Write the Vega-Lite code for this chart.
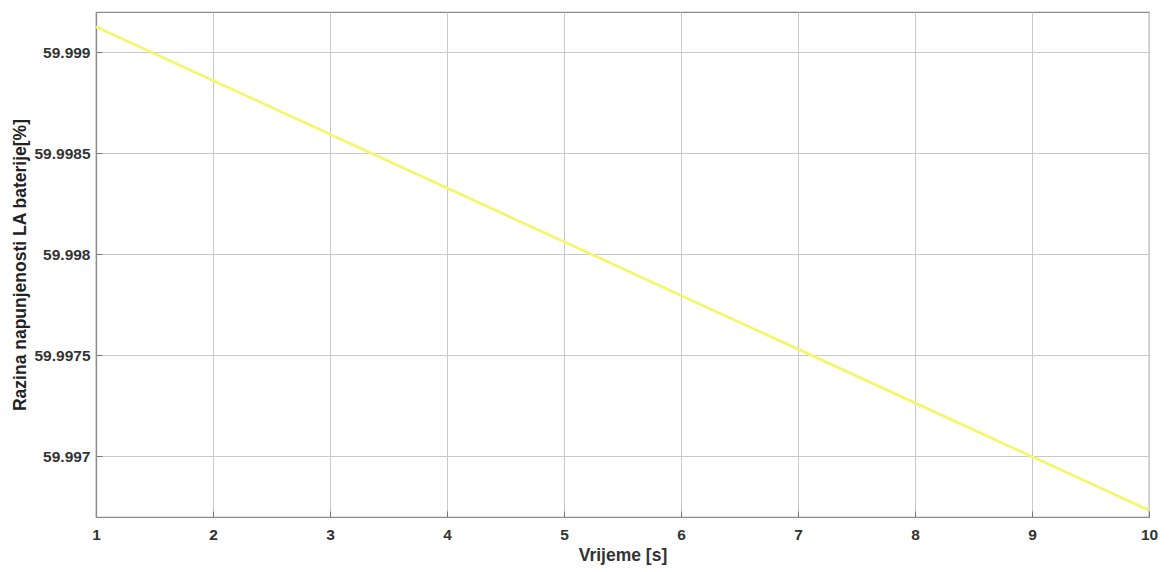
{
  "$schema": "https://vega.github.io/schema/vega-lite/v6.json",
  "width": 1053,
  "height": 505,
  "autosize": {"type": "none"},
  "padding": {"left": 96, "top": 12, "right": 20, "bottom": 55},
  "background": "white",
  "config": {
    "view": {"stroke": "#8a8a8a", "strokeWidth": 1.2},
    "font": "Liberation Sans"
  },
  "data": {
    "values": [
      {"t": 1, "soc": 59.999127},
      {"t": 2, "soc": 59.998861},
      {"t": 3, "soc": 59.998595},
      {"t": 4, "soc": 59.998329},
      {"t": 5, "soc": 59.998063},
      {"t": 6, "soc": 59.997797},
      {"t": 7, "soc": 59.997531},
      {"t": 8, "soc": 59.997265},
      {"t": 9, "soc": 59.996999},
      {"t": 10, "soc": 59.996733}
    ]
  },
  "mark": {"type": "line", "color": "#f6f56e", "strokeWidth": 2.8, "clip": true},
  "encoding": {
    "x": {
      "field": "t",
      "type": "quantitative",
      "scale": {"domain": [1, 10], "nice": false, "zero": false},
      "axis": {
        "title": "Vrijeme [s]",
        "values": [1, 2, 3, 4, 5, 6, 7, 8, 9, 10],
        "format": "d",
        "labelFlush": false,
        "grid": true,
        "gridColor": "#c8c8c8",
        "gridWidth": 1,
        "tickSize": -6,
        "tickColor": "#777",
        "domainColor": "#8a8a8a",
        "domainWidth": 1.2,
        "labelFont": "Liberation Sans",
        "labelFontSize": 15.5,
        "labelFontWeight": "bold",
        "labelColor": "#333333",
        "labelPadding": 16,
        "titleFont": "Liberation Sans",
        "titleFontSize": 17.5,
        "titleFontWeight": "bold",
        "titleColor": "#333333",
        "titlePadding": 4
      }
    },
    "y": {
      "field": "soc",
      "type": "quantitative",
      "scale": {"domain": [59.9967, 59.9992], "nice": false, "zero": false},
      "axis": {
        "title": "Razina napunjenosti LA baterije[%]",
        "values": [59.997, 59.9975, 59.998, 59.9985, 59.999],
        "format": ".4~f",
        "labelFlush": false,
        "grid": true,
        "gridColor": "#c8c8c8",
        "gridWidth": 1,
        "tickSize": -6,
        "tickColor": "#777",
        "domainColor": "#8a8a8a",
        "domainWidth": 1.2,
        "labelFont": "Liberation Sans",
        "labelFontSize": 15.5,
        "labelFontWeight": "bold",
        "labelColor": "#333333",
        "labelPadding": 12,
        "titleFont": "Liberation Sans",
        "titleFontSize": 17.5,
        "titleFontWeight": "bold",
        "titleColor": "#222222",
        "titlePadding": 4
      }
    }
  }
}
